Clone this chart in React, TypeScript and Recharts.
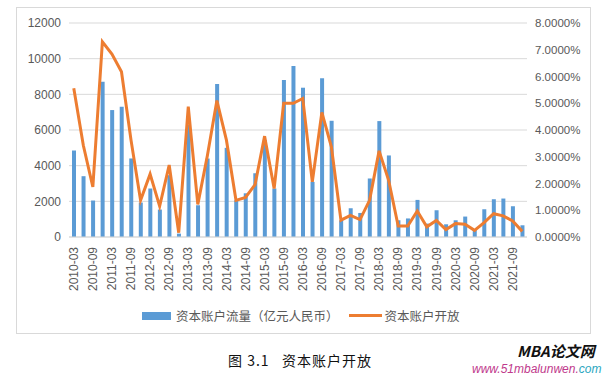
import React from "react";
import {Bar, CartesianGrid, ComposedChart, Line, XAxis, YAxis} from "recharts";

const quarters = [
   "2010-03", "2010-06", "2010-09", "2010-12", "2011-03", "2011-06", "2011-09", "2011-12",
   "2012-03", "2012-06", "2012-09", "2012-12", "2013-03", "2013-06", "2013-09", "2013-12",
   "2014-03", "2014-06", "2014-09", "2014-12", "2015-03", "2015-06", "2015-09", "2015-12",
   "2016-03", "2016-06", "2016-09", "2016-12", "2017-03", "2017-06", "2017-09", "2017-12",
   "2018-03", "2018-06", "2018-09", "2018-12", "2019-03", "2019-06", "2019-09", "2019-12",
   "2020-03", "2020-06", "2020-09", "2020-12", "2021-03", "2021-06", "2021-09", "2021-12",
];

// 资本账户流量（亿元人民币）
const flowValues = [
   4850, 3410, 2045, 8708, 7118, 7303, 4404, 1933,
   2719, 1539, 3466, 190, 6300, 1780, 4400, 8580,
   5000, 2060, 2450, 3570, 5430, 2719, 8803, 9590,
   8371, 3090, 8900, 6517, 938, 1612, 1348, 3281,
   6500, 4573, 938, 1040, 2080, 750, 1500, 713,
   938, 1146, 415, 1556, 2118, 2157, 1725, 657,
];

// 资本账户开放 (%)
const opennessValues = [
   5.56, 3.43, 1.87, 7.30, 6.84, 6.18, 3.62, 1.37,
   2.35, 1.15, 2.69, 0.16, 4.87, 1.22, 3.04, 5.10,
   3.62, 1.37, 1.48, 1.96, 3.77, 1.81, 5.00, 5.00,
   5.18, 2.06, 4.66, 3.37, 0.63, 0.81, 0.65, 1.37,
   3.22, 2.12, 0.41, 0.41, 0.97, 0.38, 0.62, 0.28,
   0.50, 0.48, 0.25, 0.54, 0.87, 0.79, 0.60, 0.21,
];

const leftTicks = [0, 2000, 4000, 6000, 8000, 10000, 12000];
const rightTicks = [0, 1, 2, 3, 4, 5, 6, 7, 8];

const data = quarters.map((q, i) => ({
   date: q,
   flow: flowValues[i],
   open: opennessValues[i],
}));

const BLUE = "#5B9BD5";
const ORANGE = "#ED7D31";
const GRAY = "#595959";
const LATIN = "'Liberation Sans', Arial, sans-serif";
const CJK = "'Noto Sans CJK SC', sans-serif";

const DateTick = (props: any) => {
   const {x, y, payload} = props;
   return (
      <g transform={`translate(${x},${y})`}>
         <text
            x={0}
            y={0}
            dy="0.35em"
            transform="rotate(-90)"
            textAnchor="end"
            fill={GRAY}
            fontSize={12}
            fontFamily={LATIN}
         >
            {payload.value}
         </text>
      </g>
   );
};

const App: React.FC = () => {
   return (
      <div style={{position: "absolute", left: 0, top: 0, width: 603, height: 376, background: "#fff"}}>
         <div
            style={{
               position: "absolute", left: 16, top: 7, width: 575, height: 327,
               border: "1px solid #d9d9d9", boxSizing: "border-box",
            }}
         />
         <div style={{position: "absolute", left: 0, top: 0}}>
            <ComposedChart
               width={603}
               height={376}
               data={data}
               margin={{top: 23, right: 16, left: 16, bottom: 79}}
               barCategoryGap="30%"
            >
               <CartesianGrid yAxisId="left" vertical={false} stroke="#d9d9d9"/>
               <XAxis
                  dataKey="date"
                  interval={1}
                  height={60}
                  tick={<DateTick/>}
                  tickLine={false}
                  tickMargin={4}
                  axisLine={{stroke: "#d9d9d9"}}
               />
               <YAxis
                  yAxisId="left"
                  domain={[0, 12000]}
                  ticks={leftTicks}
                  width={53}
                  axisLine={false}
                  tickLine={false}
                  tickSize={0}
                  tickMargin={8}
                  tick={{fill: GRAY, fontSize: 12, fontFamily: LATIN}}
               />
               <YAxis
                  yAxisId="right"
                  orientation="right"
                  domain={[0, 8]}
                  ticks={rightTicks}
                  width={60}
                  axisLine={false}
                  tickLine={false}
                  tickSize={0}
                  tickMargin={8}
                  tickFormatter={(v: number) => `${v.toFixed(4)}%`}
                  tick={{fill: GRAY, fontSize: 11.5, fontFamily: LATIN}}
               />
               <Bar yAxisId="left" dataKey="flow" fill={BLUE} barSize={4} isAnimationActive={false}/>
               <Line
                  yAxisId="right"
                  type="linear"
                  dataKey="open"
                  stroke={ORANGE}
                  strokeWidth={3}
                  dot={false}
                  isAnimationActive={false}
               />
            </ComposedChart>
         </div>

         {/* legend */}
         <div
            style={{
               position: "absolute", left: 142, top: 306, display: "flex", alignItems: "center",
               fontFamily: CJK, fontSize: 12.5, color: GRAY, whiteSpace: "nowrap",
            }}
         >
            <span style={{display: "inline-block", width: 29, height: 8, background: BLUE, marginRight: 5}}/>
            <span>资本账户流量（亿元人民币）</span>
            <span style={{display: "inline-block", width: 33, height: 3, background: ORANGE, margin: "0 3px 0 10px"}}/>
            <span>资本账户开放</span>
         </div>

         {/* caption */}
         <div
            style={{
               position: "absolute", left: 228, top: 350, fontFamily: CJK, fontSize: 14,
               color: "#111", whiteSpace: "nowrap", letterSpacing: 1,
            }}
         >
            图 3.1&nbsp;&nbsp;&nbsp;资本账户开放
         </div>

         <div
            style={{
               position: "absolute", left: 517, top: 343, fontFamily: CJK, fontSize: 15,
               lineHeight: "16px", fontWeight: 700, fontStyle: "italic", color: "#111", whiteSpace: "nowrap",
            }}
         >
            MBA论文网
         </div>
         <div
            style={{
               position: "absolute", left: 472, top: 363, display: "flex", fontFamily: LATIN,
               fontSize: 12, lineHeight: "13px", fontStyle: "italic", whiteSpace: "nowrap",
            }}
         >
            <span style={{color: "#c0398c"}}>www.51mbalunwen.</span>
            <span style={{color: "#2aa6c0"}}>com</span>
         </div>
      </div>
   );
};

export default App;
